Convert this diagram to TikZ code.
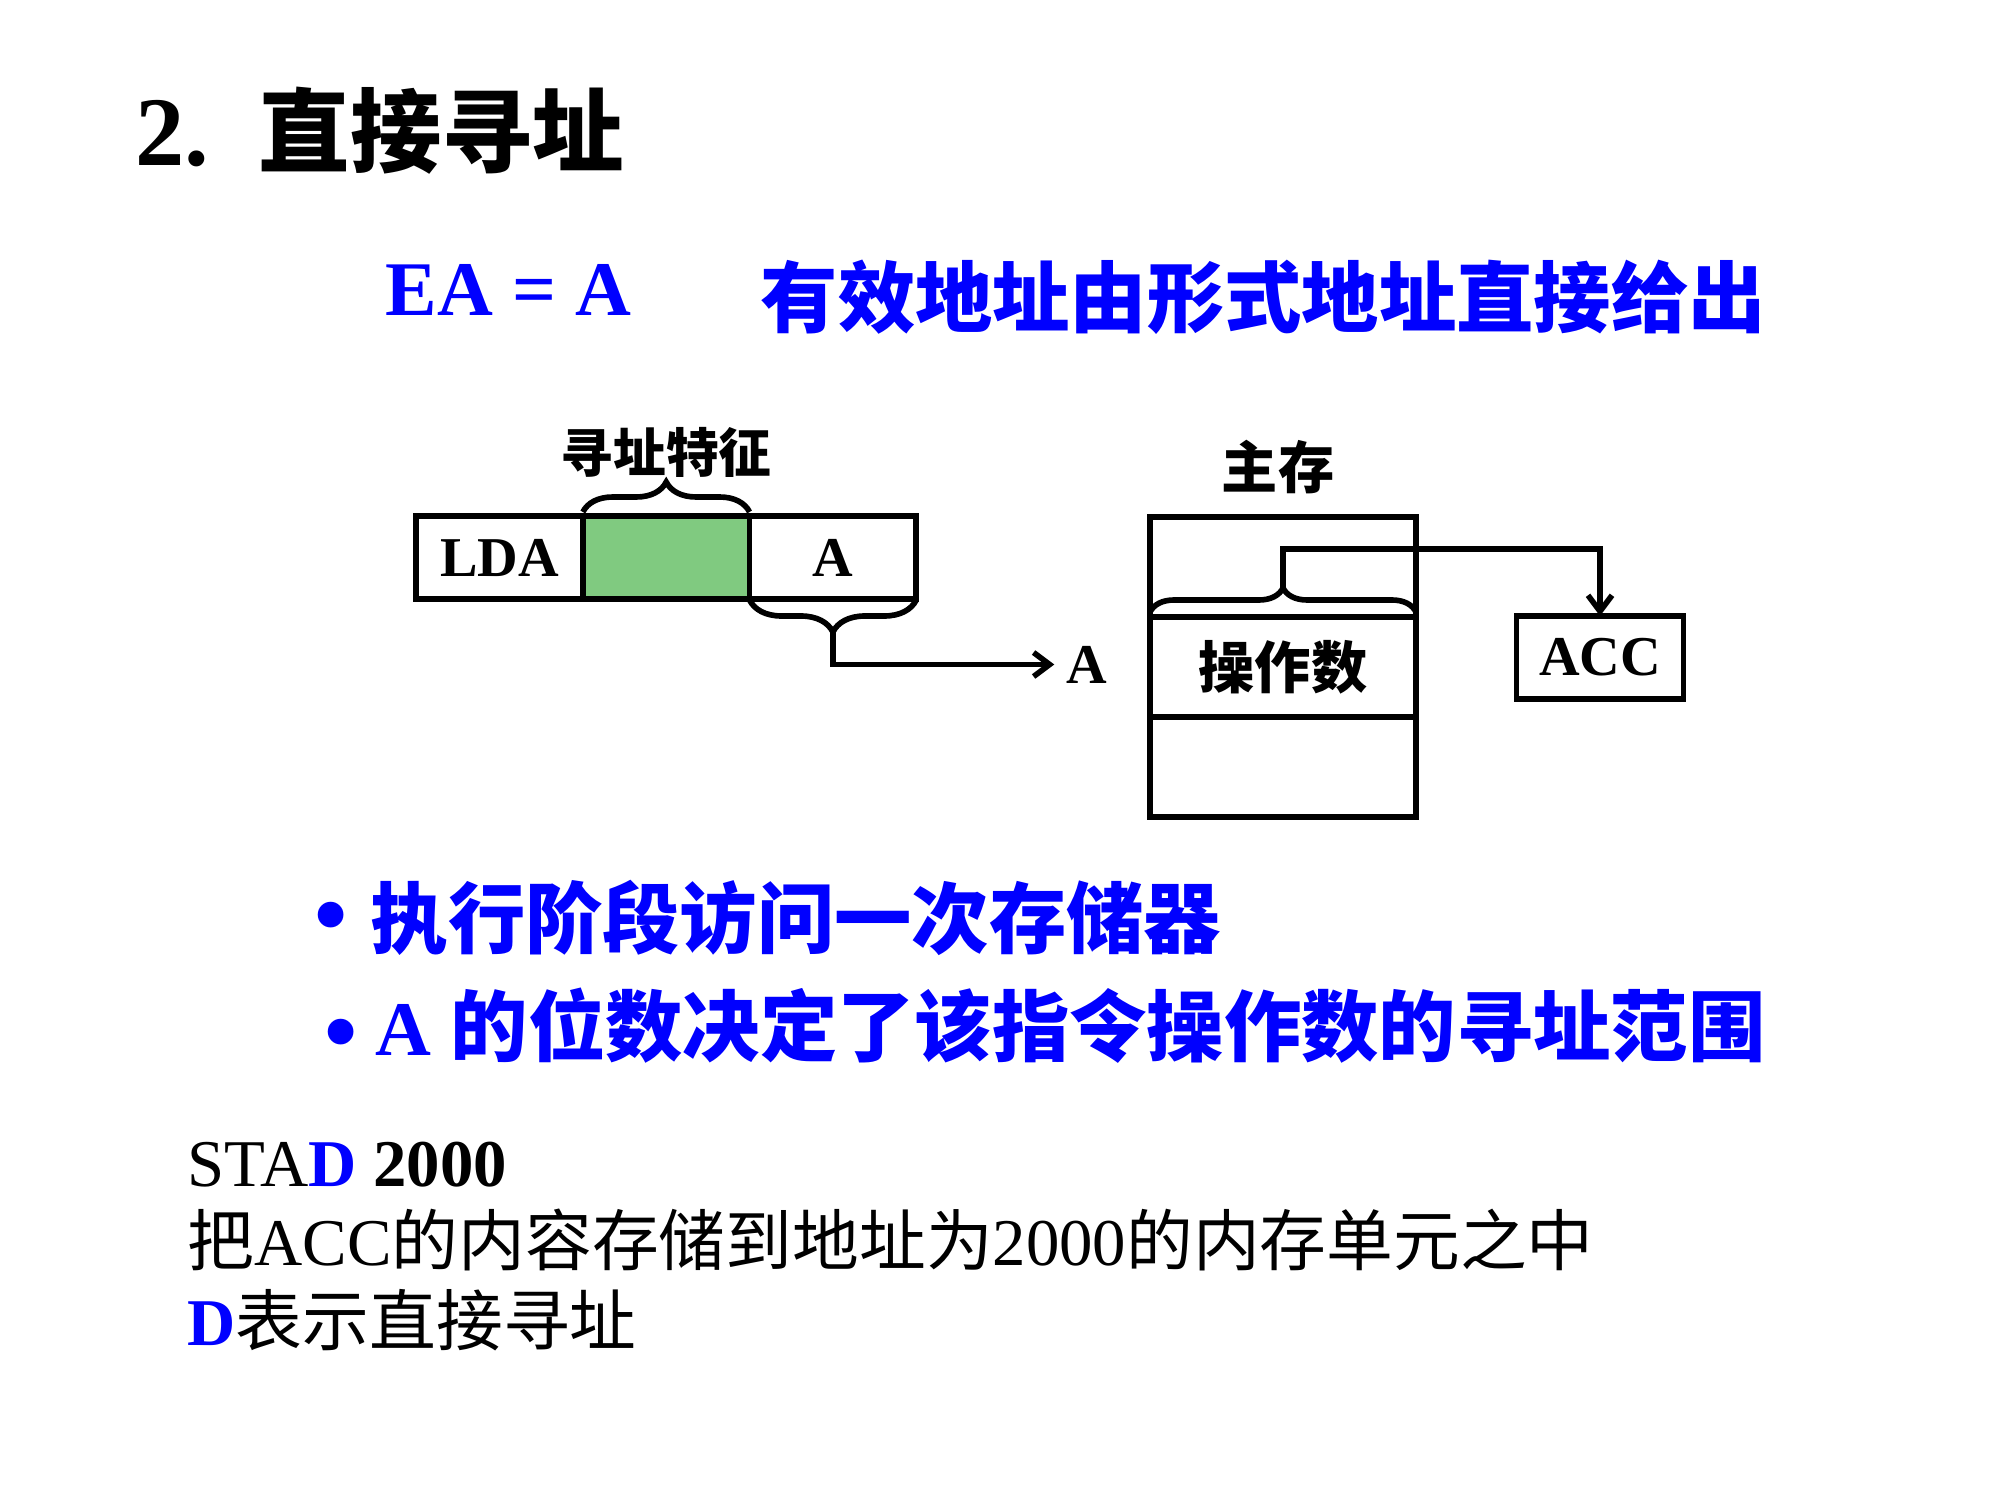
\documentclass[tikz,border=0pt]{standalone}
\usepackage{fontspec}
\setmainfont{Liberation Serif}
\newfontfamily\cjk{Noto Sans CJK SC}
\usepackage{tikz}
\usetikzlibrary{positioning, decorations.pathreplacing, arrows.meta}
\definecolor{fieldgreen}{RGB}{128,202,128}

\begin{document}
\begin{tikzpicture}[
myfield/.style={rectangle,
  draw,
  line width=1.6pt,
  outer sep=0pt,
  inner sep=0pt,
  minimum width=1.667cm,
  minimum height=0.83cm,
  font=\fontsize{16pt}{18pt}\selectfont\bfseries
},
mycell/.style={rectangle,
  draw,
  line width=1.6pt,
  outer sep=0pt,
  inner sep=0pt,
  minimum width=2.66cm,
  minimum height=1cm,
  font=\fontsize{16pt}{18pt}\selectfont\bfseries\cjk
},
mylabel/.style={inner sep=0pt,
  font=\fontsize{15pt}{18pt}\selectfont\bfseries\cjk
},
mytext/.style={anchor=base west,
  inner sep=0pt
},
mydot/.style={inner sep=0pt,
  text=blue,
  font=\fontsize{27pt}{30pt}\selectfont\bfseries
},
mybrace/.style={decorate,
  decoration={brace, amplitude=#1},
  line width=1.6pt
},
>={Straight Barb[length=1.6mm, width=2.4mm]}
]
\useasboundingbox (0,0) rectangle (20,15);

% title and formula
\node[mytext, font=\fontsize{28pt}{32pt}\selectfont\bfseries] (title) at (1.35,13.34)
    {2.\hspace{0.5em}{\cjk\fontsize{26pt}{30pt}\selectfont 直接寻址}};
\node[mytext, text=blue, font=\fontsize{22pt}{26pt}\selectfont\bfseries] (ea) at (3.85,11.84)
    {EA = A};
\node[mytext, text=blue, font=\fontsize{22pt}{26pt}\selectfont\bfseries\cjk] (eadesc) at (7.60,11.73)
    {有效地址由形式地址直接给出};

% instruction
\node[myfield] (op) at (4.995,9.425)
    {LDA};
\node[myfield, fill=fieldgreen, right=0pt of op] (mode)
    {};
\node[myfield, right=0pt of mode] (addr)
    {A};

\draw[mybrace=0.3cm] ([yshift=0.04cm]mode.north west) -- ([yshift=0.04cm]mode.north east);
\coordinate (modetip) at ([yshift=0.34cm]mode.north);
\node[mylabel, above=0.04cm of modetip] (modelbl)
    {寻址特征};

\draw[mybrace=0.32cm] ([yshift=-0.01cm]addr.south east) -- ([yshift=-0.01cm]addr.south west);
\coordinate (addrtip) at ([yshift=-0.33cm]addr.south);
\node[font=\fontsize{16pt}{18pt}\selectfont\bfseries] (ea2) at (10.87,8.355)
    {A};
\draw[->,line width=1.6pt] (addrtip) |- (ea2.west);

% main memory
\node[mycell] (m1) at (12.83,9.33)
    {};
\node[mycell, below=0pt of m1] (m2)
    {操作数};
\node[mycell, below=0pt of m2] (m3)
    {};
\node[mylabel, font=\fontsize{16pt}{18pt}\selectfont\bfseries\cjk] (memlbl) at (12.78,10.33)
    {主存};

\draw[mybrace=0.24cm] ([yshift=0.05cm]m2.north west) -- ([yshift=0.05cm]m2.north east);
\coordinate (m2tip) at ([yshift=0.29cm]m2.north);

\node[myfield] (acc) at (16.00,8.425)
    {ACC};
\coordinate[above=0.67cm of acc.north] (bend);
\draw[->,line width=1.6pt] (m2tip) |- (bend) -- (acc.north);

% notes
\node[mydot] (dot1) at (3.31,5.76)
    {•};
\node[mytext, text=blue, font=\fontsize{22pt}{26pt}\selectfont\bfseries\cjk] (note1) at (3.70,5.525)
    {执行阶段访问一次存储器};
\node[mydot] (dot2) at (3.41,4.59)
    {•};
\node[mytext, text=blue, font=\fontsize{22pt}{26pt}\selectfont\bfseries] (note2) at (3.75,4.45)
    {A {\cjk 的位数决定了该指令操作数的寻址范围}};

% example
\node[mytext, font=\fontsize{19pt}{22pt}\selectfont] (stad) at (1.87,3.14)
    {STA\textbf{\textcolor{blue}{D} 2000}};
\node[mytext, font=\fontsize{19pt}{22pt}\selectfont] (stadesc) at (1.87,2.35)
    {{\cjk 把}ACC{\cjk 的内容存储到地址为}2000{\cjk 的内存单元之中}};
\node[mytext, font=\fontsize{19pt}{22pt}\selectfont] (dnote) at (1.87,1.55)
    {\textbf{\textcolor{blue}{D}}{\cjk 表示直接寻址}};
\end{tikzpicture}
\end{document}
